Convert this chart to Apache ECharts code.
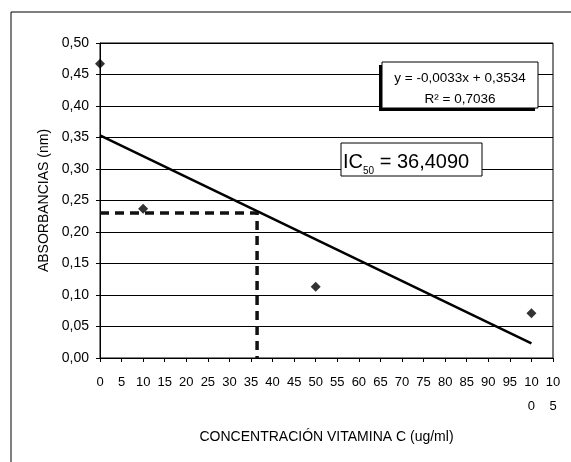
<!DOCTYPE html>
<html>
<head>
<meta charset="utf-8">
<script src="https://cdn.jsdelivr.net/npm/echarts@6/dist/echarts.min.js"></script>
<style>
html,body{margin:0;padding:0;background:#fff;}
#c{width:571px;height:462px;}
</style>
</head>
<body>
<div id="c"></div>
<script>
// Data
var concentrations = [0, 10, 50, 100];
var absorbances = [0.467, 0.237, 0.113, 0.071];
var trendX = [0, 100];
var trendY = [0.3534, 0.0234];
var ic50 = 36.409;
var halfAbs = 0.23;
var equationText = 'y = -0,0033x + 0,3534';
var r2Text = '0,7036';
var ic50Text = '36,4090';
var xTitle = 'CONCENTRACIÓN VITAMINA C (ug/ml)';
var yTitle = 'ABSORBANCIAS (nm)';

var chart = echarts.init(document.getElementById('c'), null, {renderer: 'canvas'});
var font = 'Arial, "Liberation Sans", sans-serif';

var option = {
  backgroundColor: '#fff',
  animation: false,
  grid: {left: 100, top: 43, right: 18, bottom: 104, show: true, borderColor: '#000', borderWidth: 1},
  xAxis: {
    type: 'value', min: 0, max: 105, interval: 5,
    name: xTitle, nameLocation: 'middle', nameGap: 72,
    nameTextStyle: {fontFamily: font, fontSize: 14, color: '#000', letterSpacing: -0.2},
    axisLine: {lineStyle: {color: '#000', width: 1}},
    axisTick: {show: true, length: 4, lineStyle: {color: '#000'}},
    axisLabel: {
      color: '#000', fontFamily: font, fontSize: 13, margin: 12, lineHeight: 24,
      formatter: function (v) { var s = String(v); return v >= 100 ? s.slice(0, 2) + '\n' + s.slice(2) : s; }
    },
    splitLine: {show: false}
  },
  yAxis: {
    type: 'value', min: 0, max: 0.5, interval: 0.05,
    name: yTitle, nameLocation: 'middle', nameGap: 47,
    nameTextStyle: {fontFamily: font, fontSize: 14, color: '#000', letterSpacing: 0.8},
    axisLine: {show: true, lineStyle: {color: '#000', width: 1}},
    axisTick: {show: true, length: 4, lineStyle: {color: '#000'}},
    axisLabel: {
      color: '#000', fontFamily: font, fontSize: 14, margin: 11,
      formatter: function (v) { return v.toFixed(2).replace('.', ','); }
    },
    splitLine: {show: true, lineStyle: {color: '#000', width: 1}}
  },
  series: [
    {
      type: 'line', data: trendX.map(function (x, i) { return [x, trendY[i]]; }),
      symbol: 'none', lineStyle: {color: '#000', width: 2.5}, z: 3
    },
    {
      type: 'line', data: [[0, halfAbs], [ic50, halfAbs], [ic50, 0]],
      symbol: 'none', lineStyle: {color: '#111', width: 3.5, type: [9, 6]}, z: 4
    },
    {
      type: 'scatter', data: concentrations.map(function (x, i) { return [x, absorbances[i]]; }),
      symbol: 'diamond', symbolSize: 10, itemStyle: {color: '#000'}, z: 5
    }
  ],
  graphic: [
    {type: 'line', shape: {x1: 11, y1: 12, x2: 571, y2: 12}, style: {stroke: '#000', lineWidth: 1}},
    {type: 'line', shape: {x1: 11, y1: 12, x2: 11, y2: 462}, style: {stroke: '#000', lineWidth: 1}},
    // equation box with shadow
    {type: 'rect', shape: {x: 379, y: 65, width: 156, height: 46}, style: {fill: '#000'}, z: 10},
    {type: 'rect', shape: {x: 382, y: 62, width: 156, height: 46}, style: {fill: '#fff', stroke: '#000', lineWidth: 1}, z: 11},
    {type: 'text', z: 12,
      style: {text: equationText, x: 460, y: 78, textAlign: 'center', textVerticalAlign: 'middle', fontFamily: font, fontSize: 13.5, fill: '#000'}},
    {type: 'text', z: 12,
      style: {text: 'R² = ' + r2Text, x: 460, y: 99, textAlign: 'center', textVerticalAlign: 'middle', fontFamily: font, fontSize: 13.5, fill: '#000'}},
    // IC50 box
    {type: 'rect', shape: {x: 341, y: 143, width: 141, height: 33}, style: {fill: '#fff', stroke: '#000', lineWidth: 1}, z: 11},
    {type: 'text', z: 12,
      style: {
        x: 343, y: 146,
        text: '{b|IC}{s|50}{b| = ' + ic50Text + '}',
        rich: {
          b: {fontFamily: font, fontSize: 20, fill: '#000', color: '#000', verticalAlign: 'bottom', lineHeight: 26},
          s: {fontFamily: font, fontSize: 10, fill: '#000', color: '#000', verticalAlign: 'bottom', padding: [0, 0, -4, 0], lineHeight: 26}
        }
      }}
  ]
};
chart.setOption(option);
</script>
</body>
</html>
